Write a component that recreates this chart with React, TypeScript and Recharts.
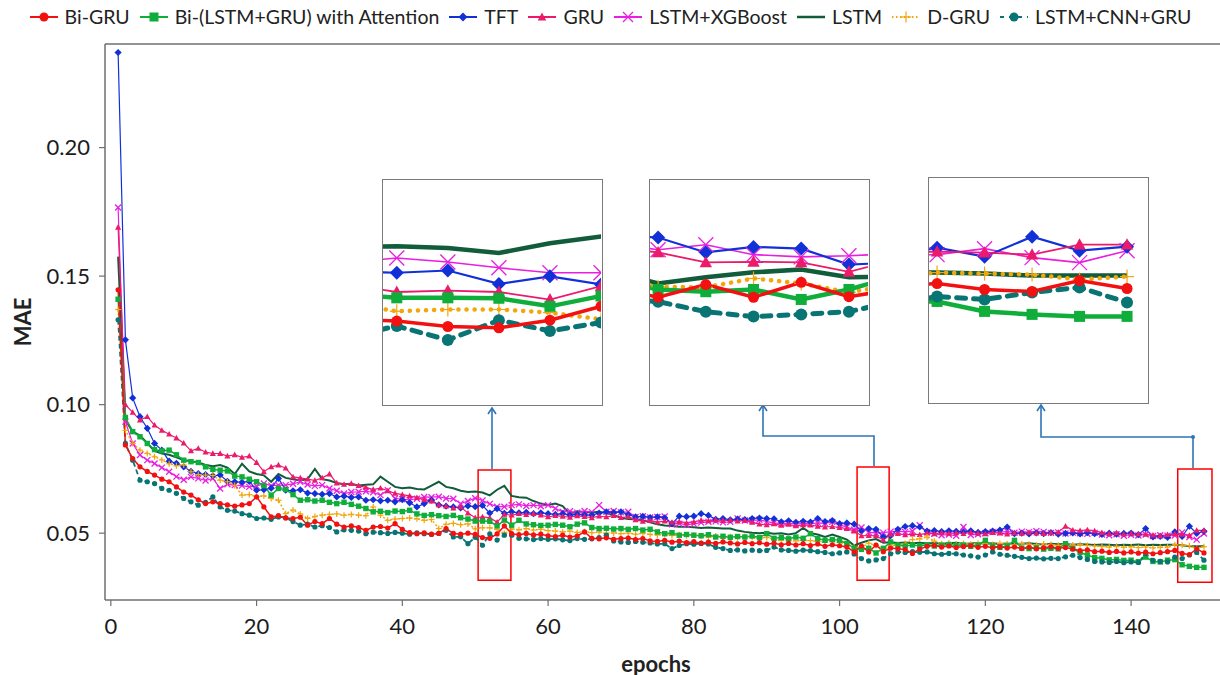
import React from "react";
import { LineChart, Line, XAxis, YAxis, ReferenceArea, ReferenceLine } from "recharts";

// MAE values x 1000, epochs 1..150
const epochs = Array.from({ length: 150 }, (_, i) => i + 1);

const biGru = [
  144.7, 84.3, 79.0, 75.8, 74.0, 72.6, 71.0, 70.0, 68.0, 66.0,
  64.8, 63.0, 61.5, 62.2, 61.5, 61.0, 60.5, 61.0, 61.5, 64.1,
  60.2, 56.3, 56.8, 55.9, 55.7, 56.2, 53.1, 54.5, 53.7, 55.7,
  53.5, 52.4, 52.8, 52.2, 51.1, 52.4, 52.6, 52.0, 53.7, 51.5,
  50.2, 49.8, 50.1, 49.6, 49.9, 51.8, 49.9, 49.6, 50.0, 49.5,
  48.3, 48.0, 49.7, 52.8, 49.8, 49.4, 49.9, 49.3, 49.6, 49.0,
  48.7, 49.2, 48.5, 48.9, 50.5, 48.0, 47.8, 48.2, 47.6, 47.9,
  48.1, 47.5, 47.9, 47.0, 46.8, 47.2, 46.5, 46.9, 46.3, 46.7,
  46.1, 46.5, 46.0, 46.6, 46.2, 45.8, 46.4, 45.9, 46.3, 45.7,
  46.1, 45.5, 46.0, 45.4, 45.9, 45.2, 45.8, 44.9, 45.5, 45.1,
  44.6, 42.7, 45.0, 42.7, 45.4, 42.8, 44.2, 43.9, 43.6, 42.1,
  43.8, 44.9, 45.2, 44.6, 45.0, 44.4, 44.8, 45.1, 44.5, 44.9,
  44.3, 44.7, 44.2, 44.6, 44.0, 44.5, 43.9, 44.3, 44.7, 44.1,
  44.4, 43.8, 43.2, 43.5, 42.8, 43.0, 42.5, 42.9, 42.3, 42.7,
  42.2, 42.6, 42.0, 42.4, 42.8, 43.3, 42.1, 41.7, 43.9, 42.3,
];

const biAttn = [
  141.0, 95.0, 89.5, 87.5, 84.9, 82.5, 82.0, 82.3, 80.5, 78.4,
  77.8, 77.5, 75.8, 74.8, 74.5, 74.2, 72.2, 71.9, 71.0, 70.0,
  68.5, 64.8, 67.4, 67.0, 65.0, 62.8, 63.0, 62.5, 62.8, 62.0,
  61.5, 62.0, 61.2, 60.5, 59.6, 58.3, 58.5, 58.0, 58.6, 58.4,
  58.9, 57.5, 56.9, 57.2, 56.8, 56.5, 56.9, 56.0, 55.5, 54.7,
  54.7, 54.6, 52.8, 55.1, 53.1, 55.0, 53.6, 53.3, 53.0, 53.1,
  53.4, 53.1, 52.5, 53.5, 54.0, 52.2, 51.8, 51.9, 51.6, 51.8,
  51.5, 51.8, 51.2, 51.5, 50.5, 49.8, 50.2, 49.2, 49.5, 49.2,
  49.0, 49.4, 48.5, 48.8, 48.4, 48.7, 48.5, 48.9, 48.3, 49.8,
  48.0, 48.3, 47.8, 48.5, 48.0, 49.8, 47.9, 47.2, 47.5, 47.2,
  46.0, 44.1, 43.7, 44.1, 42.3, 44.1, 46.6, 45.3, 45.0, 45.4,
  45.1, 45.5, 45.0, 45.3, 45.6, 45.2, 45.4, 44.9, 45.3, 47.2,
  44.9, 44.5, 45.0, 47.2, 44.2, 44.0, 44.3, 43.8, 44.1, 43.9,
  45.9, 44.0, 42.5, 41.5, 40.5, 40.2, 39.6, 39.8, 39.4, 39.5,
  38.9, 40.7, 39.0, 38.8, 39.5, 39.7, 37.7, 37.1, 36.7, 36.7,
];

const tft = [
  237.0, 125.2, 102.6, 95.3, 90.8, 84.9, 82.3, 78.0, 77.2, 75.8,
  74.0, 73.2, 72.8, 72.3, 72.6, 70.2, 70.0, 69.8, 70.1, 66.7,
  66.9, 67.5, 71.3, 66.7, 66.5, 66.9, 65.6, 65.4, 65.1, 65.4,
  64.1, 64.4, 63.9, 64.1, 62.8, 63.0, 62.6, 62.8, 62.2, 63.0,
  61.8, 60.2, 61.5, 62.8, 61.0, 60.5, 60.2, 59.8, 60.6, 60.3,
  60.8, 57.8, 59.5, 57.7, 58.3, 57.9, 58.1, 57.6, 57.9, 57.6,
  57.3, 57.6, 57.0, 57.4, 57.1, 57.0, 57.8, 58.3, 58.0, 58.3,
  57.2, 56.3, 56.5, 56.1, 56.3, 56.0, 53.7, 56.6, 56.4, 56.6,
  57.6, 56.9, 55.4, 55.7, 55.2, 55.5, 55.3, 55.7, 55.9, 55.7,
  55.6, 54.4, 54.8, 54.2, 54.6, 54.3, 55.7, 54.5, 54.9, 53.7,
  54.0, 53.5, 50.8, 51.8, 51.5, 48.6, 49.0, 51.5, 52.6, 52.9,
  52.4, 50.8, 51.0, 50.6, 50.9, 50.7, 50.5, 50.9, 50.3, 50.6,
  50.8, 51.2, 52.4, 49.8, 50.0, 49.7, 50.1, 49.8, 50.2, 49.6,
  49.9, 50.1, 49.7, 50.2, 49.8, 49.5, 50.0, 49.6, 49.9, 50.0,
  49.4, 51.8, 48.5, 48.7, 48.4, 50.5, 48.7, 52.7, 49.9, 50.7,
];

const gru = [
  169.0, 100.0, 97.0, 94.0, 95.3, 92.0, 90.0, 88.5, 87.0, 85.0,
  82.0, 83.0, 81.5, 81.0, 81.0, 80.0, 80.5, 79.5, 80.0, 77.5,
  73.9, 75.8, 76.5, 75.3, 71.9, 71.5, 71.0, 70.5, 71.5, 73.0,
  69.5, 69.0, 69.3, 68.5, 67.8, 67.0, 67.5, 66.5, 65.5, 65.0,
  64.5, 63.8, 63.0, 62.5, 61.0, 60.5, 59.8, 60.2, 57.8, 56.0,
  56.3, 56.0, 54.3, 57.3, 57.0, 57.6, 57.2, 57.6, 57.0, 56.3,
  56.8, 56.5, 56.2, 56.7, 56.4, 56.0, 56.6, 56.3, 56.8, 56.1,
  56.4, 55.2, 54.6, 54.9, 54.3, 54.7, 54.2, 54.5, 54.0, 54.4,
  55.0, 54.8, 55.2, 54.9, 55.1, 54.7, 55.0, 54.2, 53.5, 53.2,
  53.6, 53.0, 53.4, 52.8, 53.2, 53.1, 52.7, 52.4, 52.6, 52.2,
  51.8, 50.8, 49.0, 49.1, 49.0, 47.3, 49.5, 49.8, 49.3, 49.6,
  49.4, 50.0, 49.7, 50.2, 49.9, 50.1, 49.8, 50.3, 50.0, 49.7,
  50.2, 50.0, 49.6, 50.1, 49.9, 50.3, 50.0, 49.8, 50.2, 50.4,
  52.7, 51.2, 51.0, 51.3, 50.9, 50.2, 49.8, 50.1, 49.6, 49.9,
  49.7, 49.5, 49.2, 49.0, 49.4, 49.7, 49.5, 49.1, 51.1, 51.1,
];

const xgb = [
  176.7, 93.4, 84.9, 80.4, 78.4, 77.1, 75.5, 73.9, 72.0, 70.8,
  71.9, 71.3, 70.5, 71.3, 67.4, 69.0, 68.7, 68.5, 68.0, 68.3,
  69.3, 68.5, 68.7, 68.7, 69.2, 70.0, 68.9, 68.4, 68.7, 67.4,
  66.5, 65.4, 66.0, 66.1, 66.3, 65.9, 64.8, 66.7, 63.5, 63.2,
  63.0, 63.4, 64.1, 64.0, 64.2, 63.5, 63.4, 61.5, 62.5, 63.6,
  62.7, 61.4, 60.3, 60.3, 60.9, 61.2, 60.6, 60.9, 60.5, 60.9,
  59.6, 58.3, 58.5, 58.0, 58.6, 58.2, 60.9, 58.3, 58.6, 58.1,
  58.3, 56.3, 56.6, 56.1, 56.3, 56.5, 53.5, 53.7, 53.3, 53.6,
  54.1, 54.4, 54.6, 54.2, 54.4, 55.7, 54.9, 55.0, 55.2, 54.5,
  54.0, 53.7, 53.9, 53.5, 53.8, 53.6, 54.0, 53.8, 54.4, 53.2,
  52.4, 51.3, 52.2, 50.4, 50.0, 50.2, 50.6, 50.8, 50.5, 50.9,
  53.1, 50.4, 49.8, 49.2, 49.5, 49.0, 52.4, 49.3, 49.6, 50.0,
  50.5, 50.3, 50.7, 50.2, 50.6, 50.4, 50.8, 50.5, 50.1, 50.3,
  49.9, 50.2, 50.0, 49.8, 50.1, 49.5, 49.2, 49.6, 49.0, 49.4,
  49.1, 49.5, 48.9, 49.2, 49.0, 49.1, 50.3, 48.5, 47.5, 49.9,
];

const lstm = [
  157.6, 94.0, 89.5, 88.0, 85.0, 82.0, 81.0, 80.5, 79.5, 78.5,
  78.0, 77.5, 76.5, 76.0, 76.5, 75.5, 73.0, 77.0, 74.0, 73.0,
  72.5, 70.0, 73.0, 71.5, 71.0, 70.5, 71.0, 75.0, 71.0, 70.5,
  69.5, 69.0, 69.2, 68.5, 68.8, 69.0, 72.0, 70.0, 68.0, 67.5,
  67.8, 67.2, 67.0, 68.5, 70.0, 68.0, 67.5, 66.5, 66.0, 66.2,
  65.8, 64.7, 66.9, 68.4, 64.5, 64.0, 63.8, 62.5, 61.5, 61.0,
  61.5, 60.5, 57.5, 58.5, 58.2, 58.0, 58.3, 57.8, 57.0, 56.0,
  55.5, 55.4, 55.0, 54.2, 53.5, 53.0, 52.8, 52.5, 52.5, 52.3,
  52.0, 52.2, 52.0, 51.8, 51.8, 51.0, 50.5, 50.2, 50.0, 50.2,
  49.8, 50.0, 49.5, 50.0, 52.0, 50.0, 49.5, 48.5, 49.5, 48.5,
  47.5, 45.2, 46.3, 47.2, 47.7, 46.3, 46.5, 46.2, 46.4, 46.1,
  46.3, 46.0, 46.2, 45.9, 46.1, 46.3, 45.8, 46.0, 46.2, 45.9,
  46.1, 45.8, 46.0, 45.7, 45.9, 46.1, 45.8, 45.6, 45.9, 45.7,
  45.8, 45.5, 45.7, 45.6, 45.4, 45.6, 45.5, 45.3, 45.5, 45.4,
  45.6, 45.3, 45.5, 45.4, 45.5, 45.5, 45.3, 44.9, 44.9, 44.9,
];

const dGru = [
  137.0, 90.0, 84.9, 82.3, 81.0, 79.7, 78.5, 77.0, 76.2, 76.5,
  73.9, 72.8, 72.6, 72.4, 70.6, 70.0, 68.5, 64.8, 65.0, 64.2,
  64.5, 63.5, 62.8, 57.6, 59.0, 57.5, 55.7, 56.5, 57.0, 57.3,
  57.5, 57.0, 57.3, 57.0, 56.8, 60.2, 57.0, 55.0, 55.5, 55.7,
  55.9, 55.6, 55.0, 55.3, 51.8, 53.5, 53.8, 53.3, 53.6, 51.7,
  52.1, 52.1, 51.4, 49.9, 51.6, 51.3, 51.8, 51.2, 51.5, 51.0,
  50.8, 50.5, 50.8, 50.3, 50.6, 50.2, 50.4, 49.9, 50.1, 49.8,
  50.0, 49.6, 49.9, 49.5, 49.3, 49.6, 49.1, 49.4, 49.0, 49.2,
  48.8, 48.5, 48.9, 48.3, 48.6, 48.2, 48.7, 48.4, 48.0, 48.3,
  47.6, 47.2, 47.5, 47.0, 47.3, 47.1, 46.8, 46.6, 46.9, 46.4,
  45.8, 44.6, 44.5, 46.1, 45.2, 43.6, 45.0, 45.5, 46.0, 47.5,
  47.8, 48.5, 46.9, 45.9, 46.2, 45.8, 46.0, 45.7, 46.1, 45.9,
  45.6, 46.0, 45.8, 45.5, 45.9, 45.7, 45.4, 45.8, 45.6, 45.3,
  45.7, 45.4, 45.5, 45.2, 45.0, 44.8, 44.6, 44.9, 44.5, 44.7,
  44.4, 44.6, 44.3, 44.5, 44.6, 45.5, 45.3, 45.1, 44.1, 44.7,
];

const cnnGru = [
  133.0, 84.9, 78.4, 70.6, 70.0, 69.3, 67.4, 66.7, 65.5, 63.5,
  62.2, 60.9, 62.0, 64.1, 60.2, 58.9, 58.6, 57.6, 57.0, 55.7,
  55.9, 55.4, 56.3, 56.0, 54.5, 53.1, 53.5, 52.4, 52.9, 52.2,
  50.5, 51.3, 51.1, 50.8, 49.8, 50.4, 50.2, 49.9, 50.3, 50.0,
  49.6, 50.1, 49.8, 49.5, 49.9, 51.1, 48.5, 48.6, 45.9, 48.4,
  45.3, 49.7, 47.3, 49.2, 49.2, 48.0, 47.8, 47.5, 47.9, 47.6,
  47.8, 47.4, 47.1, 47.9, 47.6, 47.8, 48.3, 49.2, 47.0, 46.6,
  46.4, 46.8, 46.5, 46.2, 45.8, 45.9, 44.0, 45.2, 45.9, 45.7,
  46.0, 45.8, 44.5, 44.0, 43.3, 43.5, 43.1, 43.4, 43.2, 43.3,
  44.6, 43.5, 43.3, 43.0, 43.4, 43.2, 42.8, 42.5, 42.0, 42.3,
  42.7, 41.9, 40.1, 39.2, 39.6, 40.1, 42.0, 42.7, 42.5, 42.8,
  42.6, 42.7, 42.0, 41.8, 42.1, 42.0, 41.5, 41.2, 40.7, 41.5,
  42.7, 41.8, 41.4, 41.0, 40.6, 40.1, 40.3, 40.0, 40.2, 40.1,
  40.8, 41.4, 40.5, 39.8, 39.0, 38.8, 38.6, 39.0, 38.5, 38.8,
  38.6, 42.0, 39.4, 39.0, 38.8, 40.7, 40.1, 41.5, 42.5, 39.5,
];

const xTicks = [0, 20, 40, 60, 80, 100, 120, 140];
const yTicks = [0.05, 0.1, 0.15, 0.2];

type Marker = "circle" | "square" | "diamond" | "triangle" | "x" | "plus" | "none";

interface Series {
  key: string;
  name: string;
  values: number[];
  color: string;
  marker: Marker;
  width: number;
  size: number;
  dash?: string;
  insetWidth: number;
  insetSize: number;
  insetDash?: string;
  legendDash?: string;
}

const series: Series[] = [
  { key: "lstm", name: "LSTM", values: lstm, color: "#115c3a", marker: "none", width: 2, size: 0, insetWidth: 4.5, insetSize: 0 },
  { key: "xgb", name: "LSTM+XGBoost", values: xgb, color: "#e81ee0", marker: "x", width: 1.2, size: 3, insetWidth: 1.6, insetSize: 7.5 },
  { key: "tft", name: "TFT", values: tft, color: "#1230d8", marker: "diamond", width: 1.2, size: 3.6, insetWidth: 2.2, insetSize: 7 },
  { key: "gru", name: "GRU", values: gru, color: "#ec1a6a", marker: "triangle", width: 1.2, size: 3.2, insetWidth: 1.8, insetSize: 6.5 },
  { key: "dGru", name: "D-GRU", values: dGru, color: "#f2a60c", marker: "plus", width: 1.5, size: 3, dash: "2 2", insetWidth: 4.5, insetSize: 7, insetDash: "0.1 8", legendDash: "1.5 2.5" },
  { key: "biAttn", name: "Bi-(LSTM+GRU) with Attention", values: biAttn, color: "#0fae3a", marker: "square", width: 1.5, size: 2.7, insetWidth: 4.5, insetSize: 5.5 },
  { key: "cnnGru", name: "LSTM+CNN+GRU", values: cnnGru, color: "#097474", marker: "circle", width: 1.8, size: 2.6, dash: "5 3", insetWidth: 5, insetSize: 6, insetDash: "9 8", legendDash: "4 5" },
  { key: "biGru", name: "Bi-GRU", values: biGru, color: "#f21010", marker: "circle", width: 1.5, size: 2.6, insetWidth: 3.5, insetSize: 5.5 },
];

const legendOrder = ["biGru", "biAttn", "tft", "gru", "xgb", "lstm", "dGru", "cnnGru"];

const rows = epochs.map((e, i) => {
  const row: Record<string, number> = { epoch: e };
  series.forEach((s) => {
    row[s.key] = s.values[i] / 1000;
  });
  return row;
});

function drawMarker(m: Marker, cx: number, cy: number, s: number, color: string, key: string) {
  if (cx == null || cy == null) return <g key={key} />;
  switch (m) {
    case "circle":
      return <circle key={key} cx={cx} cy={cy} r={s} fill={color} />;
    case "square":
      return <rect key={key} x={cx - s} y={cy - s} width={2 * s} height={2 * s} fill={color} />;
    case "diamond":
      return <polygon key={key} points={`${cx},${cy - s} ${cx + s},${cy} ${cx},${cy + s} ${cx - s},${cy}`} fill={color} />;
    case "triangle":
      return <polygon key={key} points={`${cx},${cy - s} ${cx + s * 0.95},${cy + s * 0.75} ${cx - s * 0.95},${cy + s * 0.75}`} fill={color} />;
    case "x":
      return (
        <g key={key} stroke={color} strokeWidth={1.3}>
          <line x1={cx - s} y1={cy - s} x2={cx + s} y2={cy + s} />
          <line x1={cx - s} y1={cy + s} x2={cx + s} y2={cy - s} />
        </g>
      );
    case "plus":
      return (
        <g key={key} stroke={color} strokeWidth={1.2}>
          <line x1={cx - s} y1={cy} x2={cx + s} y2={cy} />
          <line x1={cx} y1={cy - s} x2={cx} y2={cy + s} />
        </g>
      );
    default:
      return <g key={key} />;
  }
}

function LegendIcon({ s }: { s: Series }) {
  const w = 30;
  return (
    <svg width={w} height={14} style={{ marginRight: 6 }}>
      <line x1={1} y1={7} x2={w - 1} y2={7} stroke={s.color} strokeWidth={s.key === "lstm" ? 2.5 : 2} strokeDasharray={s.legendDash} />
      {drawMarker(s.marker, w / 2, 7, s.marker === "x" ? 5 : s.marker === "plus" ? 5.5 : 4.5, s.color, "m")}
    </svg>
  );
}

function Legend() {
  return (
    <div
      style={{
        position: "absolute",
        left: 0,
        top: 5,
        width: 1220,
        display: "flex",
        justifyContent: "center",
        alignItems: "center",
        fontSize: 19.5,
        color: "#222",
        whiteSpace: "nowrap",
        gap: 9,
      }}
    >
      {legendOrder.map((k) => {
        const s = series.find((x) => x.key === k)!;
        return (
          <div key={k} style={{ display: "flex", alignItems: "center" }}>
            <LegendIcon s={s} />
            <span>{s.name}</span>
          </div>
        );
      })}
    </div>
  );
}

interface InsetProps {
  left: number;
  top: number;
  from: number;
  to: number;
  xDomain: [number, number];
  yDomain: [number, number];
}

function Inset({ left, top, from, to, xDomain, yDomain }: InsetProps) {
  const part = rows.filter((r) => r.epoch >= from && r.epoch <= to);
  return (
    <div
      style={{
        position: "absolute",
        left,
        top,
        width: 221,
        height: 227,
        boxSizing: "border-box",
        border: "1.5px solid #7a7a7a",
        background: "#fff",
      }}
    >
      <LineChart width={218} height={224} data={part} margin={{ top: 0, right: 0, bottom: 0, left: 0 }}>
        <XAxis dataKey="epoch" type="number" domain={xDomain} allowDataOverflow hide />
        <YAxis type="number" domain={yDomain} allowDataOverflow hide />
        {series.map((s) => (
          <Line
            key={s.key}
            dataKey={s.key}
            stroke={s.color}
            strokeWidth={s.insetWidth}
            strokeDasharray={s.insetDash}
            strokeLinecap={s.insetDash ? "round" : "butt"}
            isAnimationActive={false}
            dot={(p: any) => drawMarker(s.marker, p.cx, p.cy, s.insetSize, s.color, `i${p.index}`)}
            activeDot={false}
          />
        ))}
      </LineChart>
    </div>
  );
}

function Connectors() {
  const c = "#2e75b6";
  return (
    <svg width={1220} height={675} style={{ position: "absolute", left: 0, top: 0, pointerEvents: "none" }}>
      <g stroke={c} strokeWidth={1.6} fill="none">
        <polyline points="492,469 492,409" />
        <polyline points="488,414 492,408 496,414" />
        <polyline points="874,466 874,436 763,436 763,406" />
        <polyline points="759,411 763,405 767,411" />
        <polyline points="1193,468 1193,437 1041,437 1041,406" />
        <polyline points="1037,411 1041,405 1045,411" />
      </g>
      <circle cx={1193} cy={437} r={2} fill={c} />
    </svg>
  );
}

const Y_DOMAIN: [number, number] = [0.024, 0.2403];

export default function App() {
  const axisColor = "#6f6f6f";
  const tickStyle = { fontSize: 22, fill: "#1c1c1c", fontFamily: "Lato, sans-serif" };
  return (
    <div
      style={{
        position: "absolute",
        left: 0,
        top: 0,
        width: 1220,
        height: 675,
        background: "#fff",
        fontFamily: "Lato, 'Open Sans', sans-serif",
        overflow: "hidden",
      }}
    >
      <LineChart width={1220} height={675} data={rows} margin={{ top: 44, right: 0, bottom: 0, left: 0 }}>
        <XAxis
          dataKey="epoch"
          type="number"
          domain={[-0.8, 152.2]}
          ticks={xTicks}
          height={75}
          tick={tickStyle}
          tickSize={6}
          tickMargin={12}
          axisLine={{ stroke: axisColor, strokeWidth: 1.5 }}
          tickLine={{ stroke: axisColor, strokeWidth: 1.2 }}
        />
        <YAxis
          type="number"
          domain={Y_DOMAIN}
          allowDataOverflow
          ticks={yTicks}
          width={105}
          tick={tickStyle}
          tickSize={6}
          tickMargin={9}
          tickFormatter={(v: number) => v.toFixed(2)}
          axisLine={{ stroke: axisColor, strokeWidth: 1.5 }}
          tickLine={{ stroke: axisColor, strokeWidth: 1.2 }}
        />
        <ReferenceLine y={Y_DOMAIN[1]} stroke={axisColor} strokeWidth={1.5} />
        {series.map((s) => (
          <Line
            key={s.key}
            dataKey={s.key}
            stroke={s.color}
            strokeWidth={s.width}
            strokeDasharray={s.dash}
            isAnimationActive={false}
            dot={(p: any) => drawMarker(s.marker, p.cx, p.cy, s.size, s.color, `d${p.index}`)}
            activeDot={false}
          />
        ))}
        <ReferenceArea x1={50.4} x2={54.9} y1={0.0317} y2={0.0746} fill="none" stroke="#ff0000" strokeWidth={1.5} />
        <ReferenceArea x1={102.4} x2={106.8} y1={0.0317} y2={0.0757} fill="none" stroke="#ff0000" strokeWidth={1.5} />
        <ReferenceArea x1={146.4} x2={151.1} y1={0.0309} y2={0.075} fill="none" stroke="#ff0000" strokeWidth={1.5} />
      </LineChart>

      <Connectors />
      <Inset left={382} top={179} from={49} to={55} xDomain={[49.73, 54.0]} yDomain={[0.031, 0.081]} />
      <Inset left={649} top={179} from={101} to={107} xDomain={[101.83, 106.4]} yDomain={[0.0234, 0.0639]} />
      <Inset left={928} top={177} from={145} to={150} xDomain={[145.83, 150.42]} yDomain={[0.0195, 0.0645]} />

      <Legend />
      <div
        style={{
          position: "absolute",
          left: 22,
          top: 322,
          transform: "translate(-50%, -50%) rotate(-90deg)",
          fontWeight: 700,
          fontSize: 22,
          color: "#222",
        }}
      >
        MAE
      </div>
      <div
        style={{
          position: "absolute",
          left: 656,
          top: 663,
          transform: "translate(-50%, -50%)",
          fontWeight: 700,
          fontSize: 22,
          color: "#222",
        }}
      >
        epochs
      </div>
    </div>
  );
}
